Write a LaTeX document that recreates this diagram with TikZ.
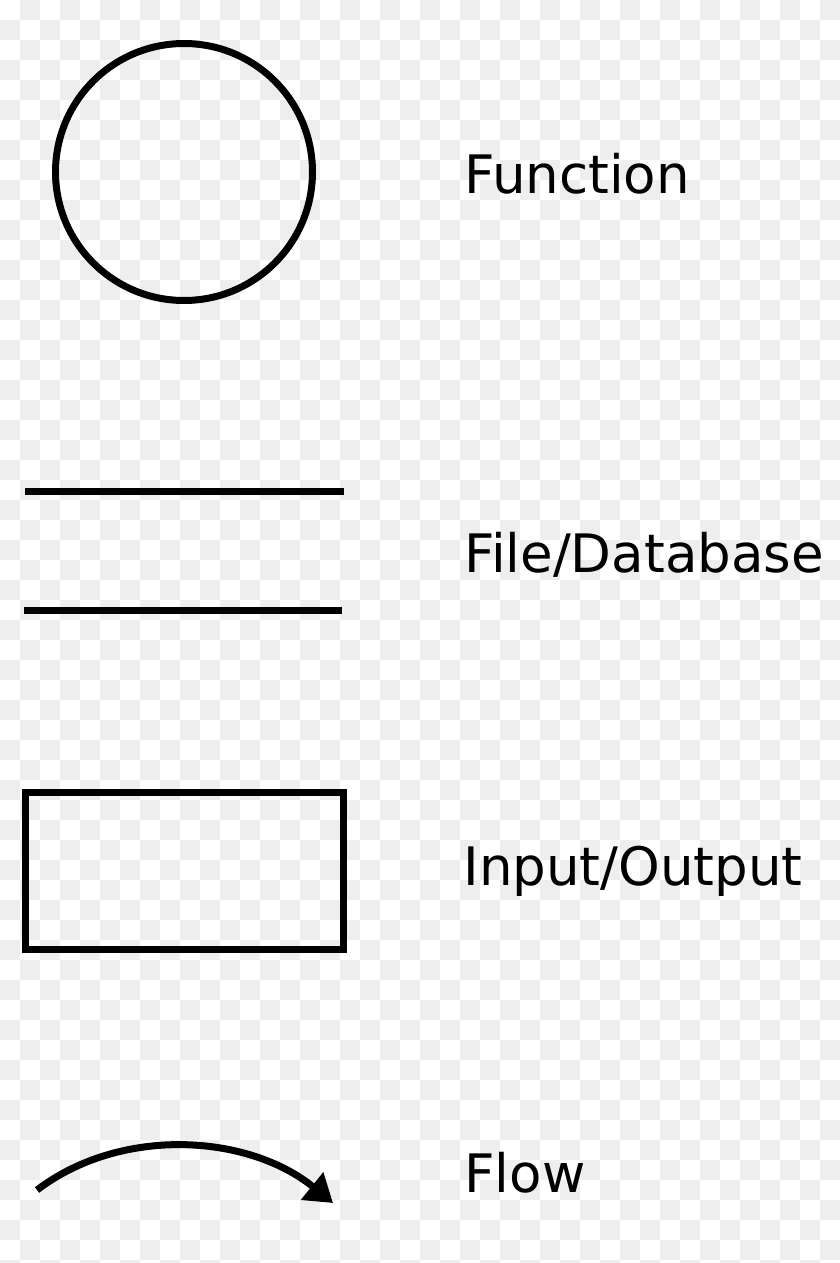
\documentclass[tikz,border=0pt]{standalone}
\usepackage{fontspec}
\setmainfont{DejaVu Sans}
\usetikzlibrary{arrows.meta}
\definecolor{checkgray}{HTML}{EEEEEE}
\begin{document}
\begin{tikzpicture}
    [
    x=0.5pt,y=-0.5pt,
    symbol/.style={draw,line width=3.5pt,inner sep=0pt,outer sep=0pt},
    stroke/.style={line width=3.5pt},
    legend/.style={anchor=base west,inner sep=0pt,font=\fontsize{26.5}{31}\selectfont}
    ]
    \useasboundingbox (0,0) rectangle (840,1263);
    \begin{scope}
    \clip (0,0) rectangle (840,1263);
    \fill [white] (0,0) rectangle (840,1263);
    \foreach \i in {0,...,41}
      \foreach \j in {0,...,63}
        {\pgfmathtruncatemacro{\odd}{mod(\i+\j,2)}
         \ifnum\odd=1 \fill [checkgray] (20*\i,20*\j) rectangle +(20,20);\fi}
    \end{scope}
    \node (function) at (184,172) [symbol,circle,minimum size=128.5pt] {};
    \node (functionlabel) at (464,193) [legend] {Function};
    \coordinate (db1a) at (25,491);
    \coordinate (db1b) at (344,491);
    \coordinate (db2a) at (24,610);
    \coordinate (db2b) at (342,610);
    \draw [stroke] (db1a) -- (db1b);
    \draw [stroke] (db2a) -- (db2b);
    \node (databaselabel) at (464,572) [legend] {File/Database};
    \node (io) at (184.3,870.9) [symbol,rectangle,minimum width=159.3pt,minimum height=78.8pt] {};
    \node (iolabel) at (463,885) [legend] {Input/Output};
    \coordinate (flowa) at (37,1190);
    \coordinate (flowb) at (333,1203);
    \draw [stroke,-{Triangle[length=13.5pt,width=17pt]}] (flowa) .. controls (121,1126) and (248,1134) .. (flowb);
    \node (flowlabel) at (464,1192) [legend] {Flow};
  \end{tikzpicture}
\end{document}
